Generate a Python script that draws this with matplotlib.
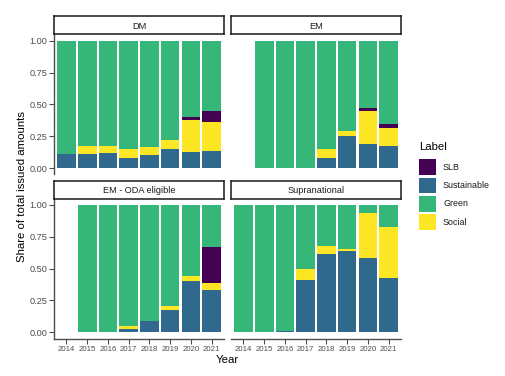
import numpy as np
import matplotlib
matplotlib.use("Agg")
import matplotlib.pyplot as plt
from matplotlib.patches import Rectangle

plt.rcParams["font.family"] = ["Liberation Sans", "DejaVu Sans"]

years = [2014, 2015, 2016, 2017, 2018, 2019, 2020, 2021]
panels = ["DM", "EM", "EM - ODA eligible", "Supranational"]
labels = ["SLB", "Sustainable", "Green", "Social"]
nan = np.nan

# shares per panel, one list per label (nan = no issuance that year)
sust = {
    "DM": [0.108, 0.113, 0.118, 0.079, 0.102, 0.147, 0.123, 0.134],
    "EM": [nan, 0, 0, 0, 0.079, 0.249, 0.192, 0.171],
    "EM - ODA eligible": [nan, 0, 0, 0.029, 0.092, 0.176, 0.399, 0.333],
    "Supranational": [0, 0, 0.010, 0.407, 0.614, 0.638, 0.583, 0.423],
}
social = {
    "DM": [0, 0.063, 0.053, 0.073, 0.066, 0.071, 0.258, 0.228],
    "EM": [nan, 0, 0, 0, 0.068, 0.042, 0.259, 0.144],
    "EM - ODA eligible": [nan, 0, 0, 0.018, 0, 0.029, 0.039, 0.050],
    "Supranational": [0, 0, 0, 0.092, 0.066, 0.016, 0.351, 0.404],
}
slb = {
    "DM": [0, 0, 0, 0, 0, 0, 0.018, 0.084],
    "EM": [nan, 0, 0, 0, 0, 0, 0.024, 0.034],
    "EM - ODA eligible": [nan, 0, 0, 0, 0, 0, 0, 0.284],
    "Supranational": [0, 0, 0, 0, 0, 0, 0, 0],
}
green = {
    "DM": [0.892, 0.824, 0.829, 0.848, 0.832, 0.782, 0.601, 0.554],
    "EM": [nan, 1, 1, 1, 0.853, 0.709, 0.525, 0.651],
    "EM - ODA eligible": [nan, 1, 1, 0.953, 0.908, 0.795, 0.562, 0.333],
    "Supranational": [1, 1, 0.990, 0.501, 0.320, 0.346, 0.066, 0.173],
}

COLORS = {"SLB": "#440154", "Sustainable": "#31688E",
          "Green": "#35B779", "Social": "#FDE725"}
AXCOL, TXT = "#4D4D4D", "#4D4D4D"

W, H = 505, 376
fig = plt.figure(figsize=(W / 100, H / 100), dpi=100)


def px(x0, y0, x1, y1):
    return [x0 / W, 1 - y1 / H, (x1 - x0) / W, (y1 - y0) / H]


boxes = {  # (left, top, right, bottom) in pixels: panel
    "DM": (54, 34.3, 224, 174.4),
    "EM": (231, 34.3, 401, 174.4),
    "EM - ODA eligible": (54, 198.5, 224, 338.6),
    "Supranational": (231, 198.5, 401, 338.6),
}

x = np.arange(len(years))
for i, name in enumerate(panels):
    l, t, r, b = boxes[name]
    ax = fig.add_axes(px(l, t, r, b))
    bottom = np.zeros(len(years))
    for lab, src in [("Sustainable", sust), ("Social", social),
                     ("SLB", slb), ("Green", green)]:
        v = np.array(src[name], dtype=float)
        ok = ~np.isnan(v)
        ax.bar(x[ok], v[ok], bottom=bottom[ok], width=0.9,
               color=COLORS[lab], linewidth=0)
        bottom[ok] += v[ok]
    ax.set_xlim(-0.6, len(years) - 0.4)
    ax.set_ylim(-0.05, 1.05)
    for s in ax.spines.values():
        s.set_visible(False)
    left_col = i % 2 == 0
    bottom_row = i >= 2
    ax.set_yticks([0, 0.25, 0.5, 0.75, 1.0])
    ax.set_xticks(x)
    if left_col:
        ax.spines["left"].set_visible(True)
        ax.spines["left"].set_color(AXCOL)
        ax.spines["left"].set_linewidth(1.0)
        ax.set_yticklabels(["0.00", "0.25", "0.50", "0.75", "1.00"])
        ax.tick_params(axis="y", length=3.5, width=0.8, color=AXCOL,
                       labelsize=6.6, labelcolor=TXT, pad=1.5)
    else:
        ax.tick_params(axis="y", left=False, labelleft=False)
    if bottom_row:
        ax.spines["bottom"].set_visible(True)
        ax.spines["bottom"].set_color(AXCOL)
        ax.spines["bottom"].set_linewidth(1.0)
        ax.set_xticklabels([str(y) for y in years])
        ax.tick_params(axis="x", length=3.5, width=0.8, color=AXCOL,
                       labelsize=5.6, labelcolor=TXT, pad=2)
    else:
        ax.tick_params(axis="x", bottom=False, labelbottom=False)
    # strip
    sax = fig.add_axes(px(l, t - 18, r, t))
    sax.set_xticks([]); sax.set_yticks([])
    for s in sax.spines.values():
        s.set_color("#1A1A1A"); s.set_linewidth(1.1)
    sax.text(0.5, 0.45, name, ha="center", va="center", fontsize=6.6,
             color="#1A1A1A", transform=sax.transAxes)

fig.text(22 / W, 1 - 187 / H, "Share of total issued amounts", rotation=90,
         ha="center", va="center", fontsize=8.2)
fig.text(227 / W, 1 - 360 / H, "Year", ha="center", va="center", fontsize=8.2)

# legend drawn by hand to match the ggplot key sizes
fig.text(419 / W, 1 - 147 / H, "Label", ha="left", va="center", fontsize=8.2)
for k, lab in enumerate(labels):
    top = 159.3 + k * 18.35
    fig.patches.append(Rectangle((419 / W, 1 - (top + 15.8) / H), 17 / W, 15.8 / H,
                                 transform=fig.transFigure, facecolor=COLORS[lab],
                                 edgecolor="none"))
    fig.text(443 / W, 1 - (top + 7.9) / H, lab, ha="left", va="center",
             fontsize=6.4, color="#1A1A1A")

fig.savefig("out.png", dpi=100)
